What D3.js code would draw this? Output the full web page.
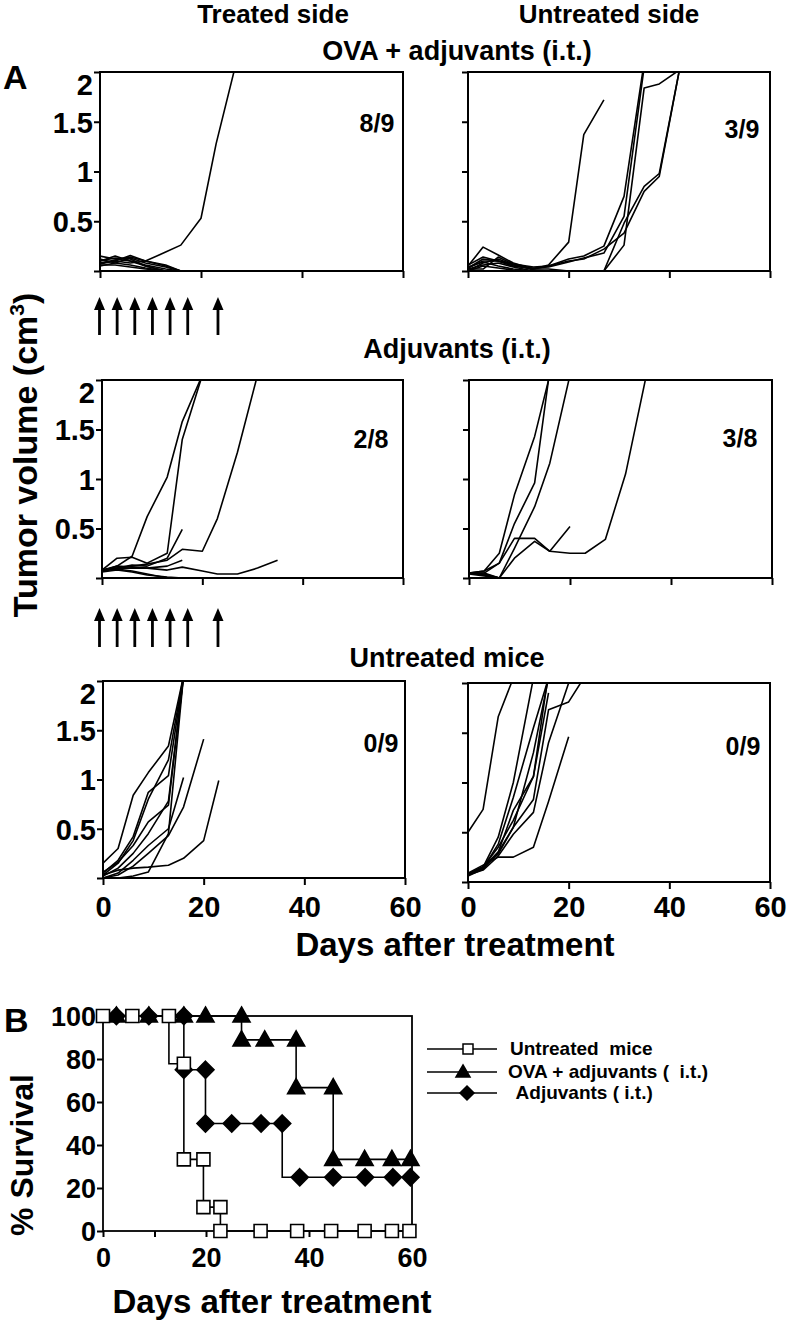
<!DOCTYPE html>
<html><head><meta charset="utf-8">
<script src="https://cdn.jsdelivr.net/npm/d3@7"></script>
<style>
body{margin:0;background:#fff}
svg text{font-family:"Liberation Sans",Arial,Helvetica,sans-serif;font-weight:bold;fill:#000}
</style></head>
<body><svg id="c" width="788" height="1322"></svg>
<script>
// ---------- DATA ----------
const tumorDays = [0,3,6,9,13,16,20,23,27,31,35,38,42,45,49,52,56,60];
const volTicks = [0,0.5,1,1.5,2];
const volTickLabels = ["","0.5","1","1.5","2"];
const dayTicks = [0,20,40,60];
const dayTickLabels = ["0","20","40","60"];

// OVA + adjuvants, treated side (8/9 tumor free)
const ovaTreated = [
 [0.08,0.10,0.08,0.10,0.19,0.26,0.53,1.28,2.10],
 [0.15,0.12,0.10,0.05,0,0,0,0,0,0,0,0,0,0,0,0,0,0],
 [0.10,0.15,0.10,0.06,0.02,0,0,0,0,0,0,0,0,0,0,0,0,0],
 [0.07,0.10,0.155,0.10,0.05,0,0,0,0,0,0,0,0,0,0,0,0,0],
 [0.05,0.08,0.13,0.08,0.04,0,0,0,0,0,0,0,0,0,0,0,0,0],
 [0.10,0.13,0.12,0.05,0,0,0,0,0,0,0,0,0,0,0,0,0,0],
 [0.06,0.06,0.04,0.02,0,0,0,0,0,0,0,0,0,0,0,0,0,0],
 [0.12,0.08,0.06,0.03,0,0,0,0,0,0,0,0,0,0,0,0,0,0],
 [0.08,0.11,0.14,0.10,0.06,0,0,0,0,0,0,0,0,0,0,0,0,0]
];
// OVA + adjuvants, untreated side (3/9)
const ovaUntreated = [
 [0.03,0.10,0.10,0.05,0.02,0.06,0.29,1.37,1.72],
 [0.05,0.24,0.16,0.08,0.02,0.05,0.12,0.15,0.25,0.75,2.10],
 [0.02,0.02,0.14,0.07,0.01,0,0,0,0,0.26,1.84,1.88,2.02],
 [0.00,0.08,0.12,0.06,0.02,0.02,0,0,0,0.48,0.85,0.98,2.02],
 [0.03,0.12,0.10,0.07,0.04,0.05,0.10,0.12,0.22,0.38,0.80,0.95,2.02],
 [0.06,0.14,0.10,0.05,0.03,0.04,0.09,0.13,0.18,0.55,2.05],
 [0.02,0.06,0.08,0.04,0,0,0,0,0,0,0,0,0,0,0,0,0,0],
 [0.04,0.09,0.05,0.02,0,0,0,0,0,0,0,0,0,0,0,0,0,0],
 [0.00,0.05,0.03,0.01,0,0,0,0,0,0,0,0,0,0,0,0,0,0]
];
// Adjuvants, treated side (2/8)
const adjTreated = [
 [0.08,0.12,0.22,0.62,1.02,1.58,2.05],
 [0.08,0.20,0.21,0.15,0.25,1.40,2.05],
 [0.08,0.10,0.13,0.12,0.20,0.49],
 [0.07,0.12,0.11,0.10,0.12,0.18],
 [0.08,0.10,0.12,0.14,0.18,0.29,0.27,0.60,1.27,2.05],
 [0.08,0.10,0.10,0.10,0.08,0.11,0.07,0.04,0.04,0.10,0.18],
 [0.07,0.09,0.07,0.04,0,0,0,0,0,0,0,0,0,0,0,0,0,0],
 [0.06,0.08,0.06,0.03,0.01,0,0,0,0,0,0,0,0,0,0,0,0,0]
];
// Adjuvants, untreated side (3/8)
const adjUntreated = [
 [0.05,0.07,0.25,0.84,1.43,2.05],
 [0.05,0.05,0.15,0.55,0.96,2.10],
 [0.05,0.03,0.00,0.30,0.72,1.16,2.05],
 [0.05,0.07,0.15,0.40,0.40,0.27,0.52],
 [0.05,0.05,0.00,0.20,0.37,0.27,0.25,0.25,0.39,1.05,2.02],
 [0.05,0.04,0,0,0,0,0,0,0,0,0,0,0,0,0,0,0,0],
 [0.04,0.02,0,0,0,0,0,0,0,0,0,0,0,0,0,0,0,0],
 [0.05,0.03,0,0,0,0,0,0,0,0,0,0,0,0,0,0,0,0]
];
// Untreated mice, "treated" side (0/9)
const ctrlTreated = [
 [0.15,0.30,0.84,1.07,1.34,2.05],
 [0.05,0.18,0.42,0.87,1.04,2.05],
 [0.03,0.15,0.38,0.80,1.20,2.05],
 [0.06,0.16,0.33,0.57,0.74,2.05],
 [0.00,0.05,0.18,0.33,0.50,1.02],
 [0.00,0.03,0.12,0.25,0.43,0.72,1.41],
 [0.03,0.08,0.10,0.11,0.13,0.20,0.38,0.99],
 [0.00,0.00,0.02,0.06,0.45,2.05],
 [0.02,0.10,0.25,0.45,0.78,2.05]
];
// Untreated mice, "untreated" side (0/9)
const ctrlUntreated = [
 [0.50,0.73,1.66,2.05],
 [0.08,0.15,0.45,1.00,2.05],
 [0.07,0.14,0.38,0.85,1.55,2.05],
 [0.08,0.15,0.30,0.72,1.06,2.10],
 [0.08,0.15,0.35,0.62,1.06,1.90],
 [0.09,0.17,0.25,0.25,0.35,0.81,1.46],
 [0.08,0.15,0.28,0.55,0.83,1.73,1.81,2.05],
 [0.07,0.12,0.26,0.48,0.70,1.40,2.00],
 [0.06,0.13,0.30,0.55,1.30,2.05]
];
const fractions = ["8/9","3/9","2/8","3/8","0/9","0/9"];
const injectionDays = [0,3.5,7,10.5,14,17.5,23.5];

// Survival (Kaplan-Meier)
const untreatedDays = [0,5.7,12.8,15.7,15.7,19.5,19.5,22.8,22.8,30.6,37.7,44.3,50.8,56.1,59.5];
const untreatedSurv = [100,100,100,77.8,33.3,33.3,11.1,11.1,0,0,0,0,0,0,0];
const ovaDays = [2.6,8.9,15.7,19.9,26.9,26.9,31.4,37.5,37.5,44.7,44.7,50.8,56.1,59.7];
const ovaSurv = [100,100,100,100,100,88.9,88.9,88.9,66.7,66.7,33.3,33.3,33.3,33.3];
const adjDays = [2.6,8.9,15.7,15.7,19.9,19.9,25.0,30.7,34.8,38.2,44.7,50.9,56.3,59.7];
const adjSurv = [100,100,100,75,75,50,50,50,50,25,25,25,25,25];
const survTicks = [0,20,40,60,80,100];
const survDayTicks = [0,10,20,30,40,50,60];
const legendLabels = ["Untreated  mice","OVA + adjuvants (  i.t.)"," Adjuvants ( i.t.)"];

// ---------- DRAW ----------
const svg = d3.select("#c");
const panels = [
 {id:1,data:ovaTreated,   x0:100,x1:403,y0:72, y1:271,yl:true, xl:false,fr:fractions[0],fx:377,fy:132},
 {id:2,data:ovaUntreated, x0:468,x1:770,y0:72, y1:271,yl:false,xl:false,fr:fractions[1],fx:742,fy:138},
 {id:3,data:adjTreated,   x0:102,x1:403,y0:380,y1:578,yl:true, xl:false,fr:fractions[2],fx:371,fy:448},
 {id:4,data:adjUntreated, x0:469,x1:772,y0:380,y1:578,yl:false,xl:false,fr:fractions[3],fx:740,fy:447},
 {id:5,data:ctrlTreated,  x0:103,x1:405,y0:681,y1:878,yl:true, xl:true, fr:fractions[4],fx:381,fy:752},
 {id:6,data:ctrlUntreated,x0:468,x1:770,y0:683,y1:882,yl:false,xl:true, fr:fractions[5],fx:743,fy:755}
];

panels.forEach(p=>{
  const x = d3.scaleLinear().domain([0,60]).range([p.x0,p.x1]);
  const y = d3.scaleLinear().domain([0,2]).range([p.y1,p.y0]);
  const cid = "clip"+p.id;
  svg.append("clipPath").attr("id",cid).append("rect")
     .attr("x",p.x0).attr("y",p.y0).attr("width",p.x1-p.x0).attr("height",p.y1-p.y0+2);
  const line = d3.line().x((d,i)=>x(tumorDays[i])).y(d=>y(d));
  svg.append("g").attr("clip-path",`url(#${cid})`)
     .selectAll("path").data(p.data).join("path")
     .attr("d",line).attr("fill","none").attr("stroke","#000")
     .attr("stroke-width",1.6).attr("stroke-linejoin","round");
  svg.append("rect").attr("x",p.x0).attr("y",p.y0).attr("width",p.x1-p.x0).attr("height",p.y1-p.y0)
     .attr("fill","none").attr("stroke","#000").attr("stroke-width",2);
  const ya = svg.append("g").attr("transform",`translate(${p.x0},0)`)
     .call(d3.axisLeft(y).tickValues(volTicks).tickSize(6).tickPadding(1)
       .tickFormat((d,i)=>p.yl?volTickLabels[i]:""));
  ya.select(".domain").remove();
  ya.selectAll("line").attr("stroke-width",2);
  ya.selectAll("text").attr("font-size",29).attr("font-family",null).attr("dy","0.36em");
  ya.selectAll("text").filter(d=>d===2).attr("dy","0.78em");
  const xa = svg.append("g").attr("transform",`translate(0,${p.y1})`)
     .call(d3.axisBottom(x).tickValues(dayTicks).tickSize(7)
       .tickFormat((d,i)=>p.xl?dayTickLabels[i]:""));
  xa.select(".domain").remove();
  xa.selectAll("line").attr("stroke-width",2);
  xa.selectAll("text").attr("font-size",29).attr("font-family",null)
     .attr("y",(p.id===6?14:18)).attr("dy","0.72em");
  svg.append("text").attr("x",p.fx).attr("y",p.fy).attr("text-anchor","middle")
     .attr("font-size",25).text(p.fr);
});

// injection arrows
const ax = d3.scaleLinear().domain([0,60]).range([99.5,402]);
[[297,335],[608,647]].forEach(([t,b])=>{
  const g = svg.append("g");
  g.selectAll("line").data(injectionDays).join("line")
   .attr("x1",d=>ax(d)).attr("x2",d=>ax(d)).attr("y1",t+10).attr("y2",b)
   .attr("stroke","#000").attr("stroke-width",2.8);
  g.selectAll("path").data(injectionDays).join("path")
   .attr("d",d=>`M${ax(d)},${t} L${ax(d)-5.5},${t+13} L${ax(d)+5.5},${t+13} Z`).attr("fill","#000");
});

// titles
const T = (x,y,s,txt,anchor="middle")=>svg.append("text").attr("x",x).attr("y",y)
  .attr("font-size",s).attr("text-anchor",anchor).style("white-space","pre").text(txt);
T(273,23,26,"Treated side");
T(609,23,26,"Untreated side");
T(457,60,27,"OVA + adjuvants (i.t.)");
T(457,358,27,"Adjuvants (i.t.)");
T(447,667,27,"Untreated mice");
T(3,89,34,"A","start");
T(455,956,33,"Days after treatment");
T(272,1313,33,"Days after treatment");
T(4,1032,34,"B","start");

const yt = svg.append("text").attr("transform","translate(37,455) rotate(-90)")
  .attr("text-anchor","middle").attr("font-size",34);
yt.append("tspan").text("Tumor volume (cm");
yt.append("tspan").attr("font-size",21).attr("dy",-13).text("3");
yt.append("tspan").attr("dy",13).text(")");
svg.append("text").attr("transform","translate(33,1155) rotate(-90)")
  .attr("text-anchor","middle").attr("font-size",32).text("% Survival");

// ---------- Survival chart ----------
const sx = d3.scaleLinear().domain([0,60]).range([103,412]);
const sy = d3.scaleLinear().domain([0,100]).range([1231,1016]);
const sya = svg.append("g").attr("transform","translate(103,0)")
  .call(d3.axisLeft(sy).tickValues(survTicks).tickSize(6).tickPadding(1));
sya.select(".domain").remove();
sya.selectAll("line").attr("stroke-width",2);
sya.selectAll("text").attr("font-size",27).attr("font-family",null).attr("dy","0.36em");
const sxa = svg.append("g").attr("transform","translate(0,1231)")
  .call(d3.axisBottom(sx).tickValues(survDayTicks).tickSize(6)
   .tickFormat(d=>d%20===0?String(d):""));
sxa.select(".domain").remove();
sxa.selectAll("line").attr("stroke-width",2);
sxa.selectAll("text").attr("font-size",27).attr("font-family",null).attr("y",17).attr("dy","0.72em");
svg.append("rect").attr("x",103).attr("y",1016).attr("width",309).attr("height",215)
  .attr("fill","none").attr("stroke","#000").attr("stroke-width",1.8);

const km = d3.line().curve(d3.curveStepBefore).x(d=>sx(d[0])).y(d=>sy(d[1]));
const series = [
  {days:ovaDays,surv:ovaSurv,shape:"tri"},
  {days:adjDays,surv:adjSurv,shape:"dia"},
  {days:untreatedDays,surv:untreatedSurv,shape:"sq"}
];
series.forEach(s=>{
  svg.append("path").attr("d",km(s.days.map((d,i)=>[d,s.surv[i]])))
   .attr("fill","none").attr("stroke","#000").attr("stroke-width",1.6);
});
const shapePath = (shape,cx,cy)=>{
  if(shape==="tri") return `M${cx},${cy-9} L${cx+8.5},${cy+6} L${cx-8.5},${cy+6} Z`;
  if(shape==="dia") return `M${cx},${cy-8.5} L${cx+8.5},${cy} L${cx},${cy+8.5} L${cx-8.5},${cy} Z`;
  return `M${cx-6.5},${cy-6.5} h13 v13 h-13 Z`;
};
series.forEach(s=>{
  svg.append("g").selectAll("path").data(s.days.map((d,i)=>[d,s.surv[i]])).join("path")
   .attr("d",d=>shapePath(s.shape,sx(d[0]),sy(d[1])))
   .attr("fill",s.shape==="sq"?"#fff":"#000").attr("stroke","#000").attr("stroke-width",1.6);
});

// legend
const legY = [1049,1072,1093];
const legShapes = [["sq",468],["tri",463],["dia",467]];
legY.forEach((yy,i)=>{
  svg.append("line").attr("x1",427).attr("x2",497).attr("y1",yy).attr("y2",yy)
   .attr("stroke","#000").attr("stroke-width",1.6);
  const [sh,cx] = legShapes[i];
  let p;
  if(sh==="sq") p=`M${cx-5},${yy-5} h10 v10 h-10 Z`;
  else if(sh==="tri") p=`M${cx},${yy-7} L${cx+7},${yy+5} L${cx-7},${yy+5} Z`;
  else p=`M${cx},${yy-7} L${cx+7},${yy} L${cx},${yy+7} L${cx-7},${yy} Z`;
  svg.append("path").attr("d",p).attr("fill",sh==="sq"?"#fff":"#000").attr("stroke","#000").attr("stroke-width",1.5);
  svg.append("text").attr("x",[510,508,511][i]).attr("y",yy+6).attr("font-size",19)
   .style("white-space","pre").text(legendLabels[i]);
});
</script></body></html>
